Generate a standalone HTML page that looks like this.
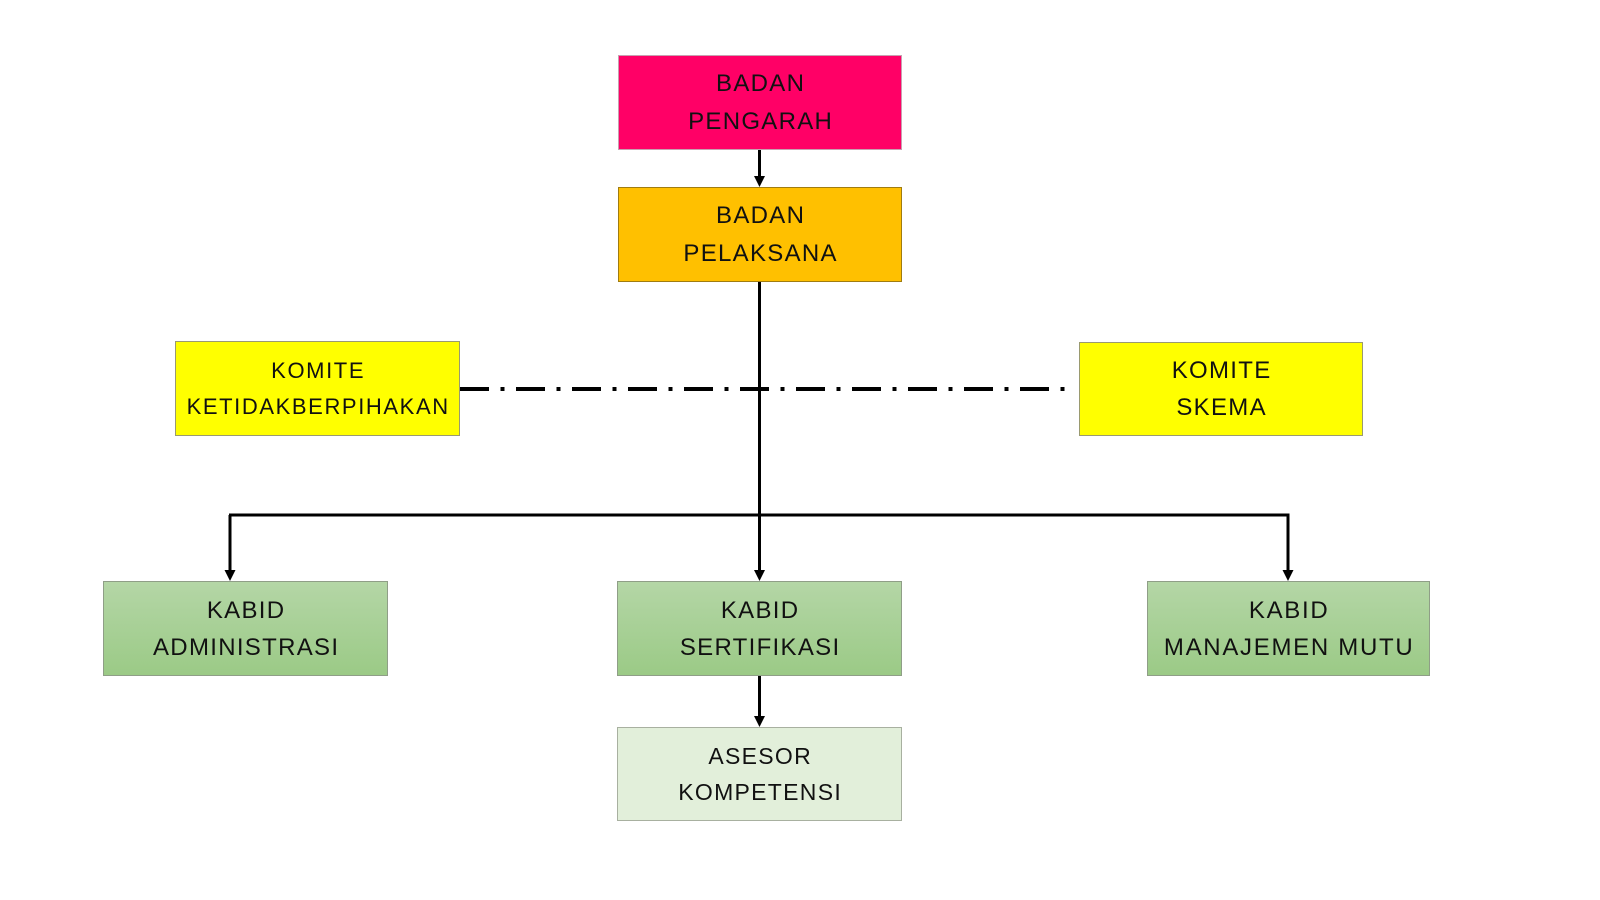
<!DOCTYPE html>
<html>
<head>
<meta charset="utf-8">
<style>
  html,body{margin:0;padding:0;background:#fff;}
  body{width:1600px;height:900px;position:relative;overflow:hidden;font-family:"Liberation Sans",sans-serif;}
  .box{position:absolute;box-sizing:border-box;display:flex;flex-direction:column;align-items:center;justify-content:center;color:#111;text-align:center;font-size:24px;letter-spacing:1.3px;line-height:37px;}
  .box span{display:block;white-space:nowrap;padding-left:1.3px;}
  .green{background:linear-gradient(to bottom,#b4d6a6,#9bca86);border:1px solid #8f9e87;}
  svg{position:absolute;left:0;top:0;}
</style>
</head>
<body>
<svg width="1600" height="900" viewBox="0 0 1600 900">
  <g stroke="#000" stroke-width="3" fill="none">
    <line x1="759.5" y1="150" x2="759.5" y2="177"/>
    <line x1="759.5" y1="282" x2="759.5" y2="571"/>
    <line x1="229" y1="515" x2="1289.5" y2="515"/>
    <line x1="230" y1="515" x2="230" y2="571"/>
    <line x1="1288" y1="515" x2="1288" y2="571"/>
    <line x1="759.5" y1="676" x2="759.5" y2="717"/>
  </g>
  <line x1="460" y1="389" x2="1070" y2="389" stroke="#000" stroke-width="4" stroke-dasharray="29 11.5 4 11.5"/>
  <g fill="#000">
    <polygon points="754,176 765,176 759.5,187"/>
    <polygon points="754,570 765,570 759.5,581"/>
    <polygon points="224.5,570 235.5,570 230,581"/>
    <polygon points="1282.5,570 1293.5,570 1288,581"/>
    <polygon points="754,716 765,716 759.5,727"/>
  </g>
</svg>

<div class="box" style="left:618px;top:55px;width:284px;height:95px;background:#ff0066;border:1px solid #c8a0b0;line-height:38px;">
  <span>BADAN</span><span>PENGARAH</span>
</div>

<div class="box" style="left:618px;top:187px;width:284px;height:95px;background:#ffc000;border:1px solid #a07c10;line-height:38px;">
  <span>BADAN</span><span>PELAKSANA</span>
</div>

<div class="box" style="left:175px;top:341px;width:285px;height:95px;background:#ffff00;border:1px solid #9a9a70;font-size:22px;line-height:36px;letter-spacing:1.6px;">
  <span>KOMITE</span><span>KETIDAKBERPIHAKAN</span>
</div>

<div class="box" style="left:1079px;top:342px;width:284px;height:94px;background:#ffff00;border:1px solid #9a9a70;line-height:37px;">
  <span>KOMITE</span><span>SKEMA</span>
</div>

<div class="box green" style="left:103px;top:581px;width:285px;height:95px;">
  <span>KABID</span><span>ADMINISTRASI</span>
</div>

<div class="box green" style="left:617px;top:581px;width:285px;height:95px;">
  <span>KABID</span><span>SERTIFIKASI</span>
</div>

<div class="box green" style="left:1147px;top:581px;width:283px;height:95px;letter-spacing:1.7px;">
  <span>KABID</span><span>MANAJEMEN MUTU</span>
</div>

<div class="box" style="left:617px;top:727px;width:285px;height:94px;background:#e2efda;border:1px solid #a8b0a0;font-size:23px;line-height:36px;">
  <span>ASESOR</span><span>KOMPETENSI</span>
</div>
</body>
</html>
